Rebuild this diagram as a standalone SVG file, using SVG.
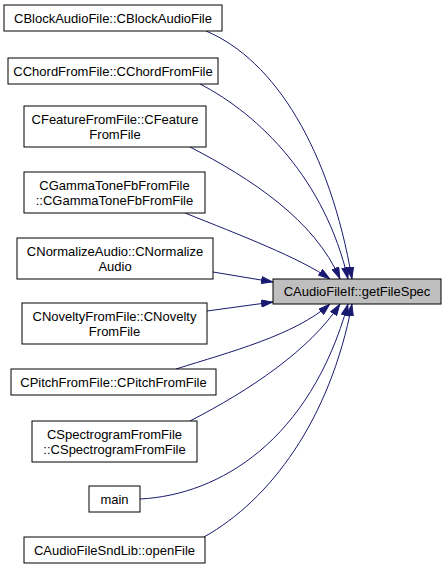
<svg xmlns="http://www.w3.org/2000/svg" width="447" height="569" viewBox="0 0 447 569">
<style>
.node rect{fill:#ffffff;stroke:#000000;stroke-width:1}
.node.hl rect{fill:#bfbfbf}
.node text{font-family:"Liberation Sans",Arial,Helvetica,sans-serif;font-size:13px;fill:#000000;text-anchor:middle;dominant-baseline:central}
.edge{fill:none;stroke:#191970;stroke-width:1;marker-end:url(#ah)}
</style>
<defs>
<marker id="ah" viewBox="0 0 12 8" refX="12" refY="4" markerWidth="12" markerHeight="8" markerUnits="userSpaceOnUse" orient="auto">
<path d="M0.5,0.5 L11.5,4 L0.5,7.5 z" fill="#191970" stroke="#191970" stroke-width="1"/>
</marker>
</defs>
<rect width="447" height="569" fill="#ffffff"/>
<g id="edges">
<path class="edge" d="M206,31 C275,60 330,150 352,279"/>
<path class="edge" d="M200,84 C260,115 325,180 348,279"/>
<path class="edge" d="M190,147 C250,178 315,220 340,279"/>
<path class="edge" d="M185,213 C240,235 300,258 330,279"/>
<path class="edge" d="M213,272 L273,282"/>
<path class="edge" d="M207,311 L273,302"/>
<path class="edge" d="M176,369 C230,352 295,335 330,304"/>
<path class="edge" d="M190,421 C250,390 310,350 340,304"/>
<path class="edge" d="M140,499 C220,495 310,440 348,304"/>
<path class="edge" d="M204,537 C270,500 330,420 352,304"/>
</g>
<g id="target" class="node hl"><rect x="273" y="279" width="168" height="25"/><text x="357" y="291.5">CAudioFileIf::getFileSpec</text></g>
<g id="n1" class="node"><rect x="4" y="5" width="218" height="26"/><text x="113" y="18">CBlockAudioFile::CBlockAudioFile</text></g>
<g id="n2" class="node"><rect x="8" y="58" width="210" height="26"/><text x="113" y="71">CChordFromFile::CChordFromFile</text></g>
<g id="n3" class="node"><rect x="24" y="106" width="182" height="41"/><text x="115" y="119">CFeatureFromFile::CFeature</text><text x="115" y="134">FromFile</text></g>
<g id="n4" class="node"><rect x="24" y="172" width="181" height="41"/><text x="114.5" y="185">CGammaToneFbFromFile</text><text x="114.5" y="200">::CGammaToneFbFromFile</text></g>
<g id="n5" class="node"><rect x="17" y="238" width="196" height="41"/><text x="115" y="251">CNormalizeAudio::CNormalize</text><text x="115" y="266">Audio</text></g>
<g id="n6" class="node"><rect x="22" y="303" width="185" height="41"/><text x="114.5" y="316">CNoveltyFromFile::CNovelty</text><text x="114.5" y="331">FromFile</text></g>
<g id="n7" class="node"><rect x="11" y="369" width="205" height="26"/><text x="113.5" y="382">CPitchFromFile::CPitchFromFile</text></g>
<g id="n8" class="node"><rect x="32" y="421" width="165" height="41"/><text x="114.5" y="434">CSpectrogramFromFile</text><text x="114.5" y="449">::CSpectrogramFromFile</text></g>
<g id="n9" class="node"><rect x="89" y="486" width="51" height="26"/><text x="114.5" y="499">main</text></g>
<g id="n10" class="node"><rect x="24" y="537" width="181" height="26"/><text x="114.5" y="550">CAudioFileSndLib::openFile</text></g>
</svg>
